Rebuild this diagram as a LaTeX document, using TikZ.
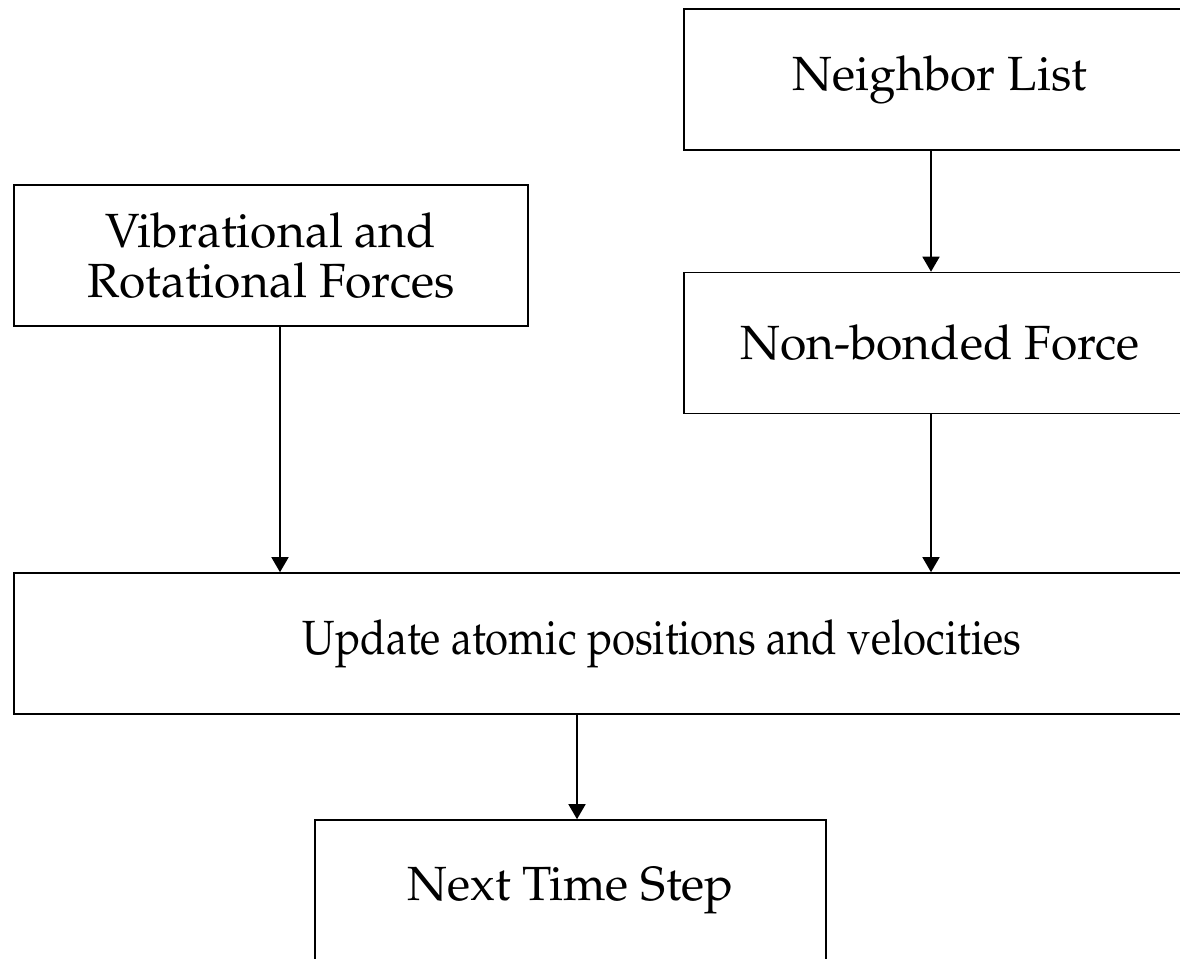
\documentclass[tikz,border=0pt]{standalone}
\usepackage[T1]{fontenc}
\usepackage{mathpazo}
\usepackage{graphicx}
\usetikzlibrary{arrows.meta}
\tikzset{
  box/.style={draw, line width=1.6pt, inner sep=0pt, align=center, minimum height=141pt,
    font=\fontsize{48}{50}\selectfont},
  arr/.style={line width=1.6pt, -{Triangle[width=17pt,length=15pt]}}
}
\begin{document}
\begin{tikzpicture}[x=1pt,y=-1pt]
\useasboundingbox (0,0) rectangle (1180,958);
\clip (0,0) rectangle (1180,958);
\node[box, minimum width=512pt] (A) at (940,79.5) {Neighbor List};
\node[box, minimum width=512pt] (B) at (940,343) {Non-bonded Force};
\node[box, minimum width=514pt] (C) at (271,255.5) {Vibrational and\\Rotational Forces};
\node[box, minimum width=1296pt] (D) at (662,643.5) {\scalebox{0.873}[1]{Update atomic positions and velocities}};
\node[box, minimum width=511pt] (E) at (570.5,890.5) {Next Time Step};
\coordinate (xr) at (931,0);
\coordinate (xl) at (280,0);
\coordinate (xm) at (577,0);
\draw[arr] (A.south -| xr) -- (B.north -| xr);
\draw[arr] (B.south -| xr) -- (D.north -| xr);
\draw[arr] (C.south -| xl) -- (D.north -| xl);
\draw[arr] (D.south -| xm) -- (E.north -| xm);
\end{tikzpicture}
\end{document}
